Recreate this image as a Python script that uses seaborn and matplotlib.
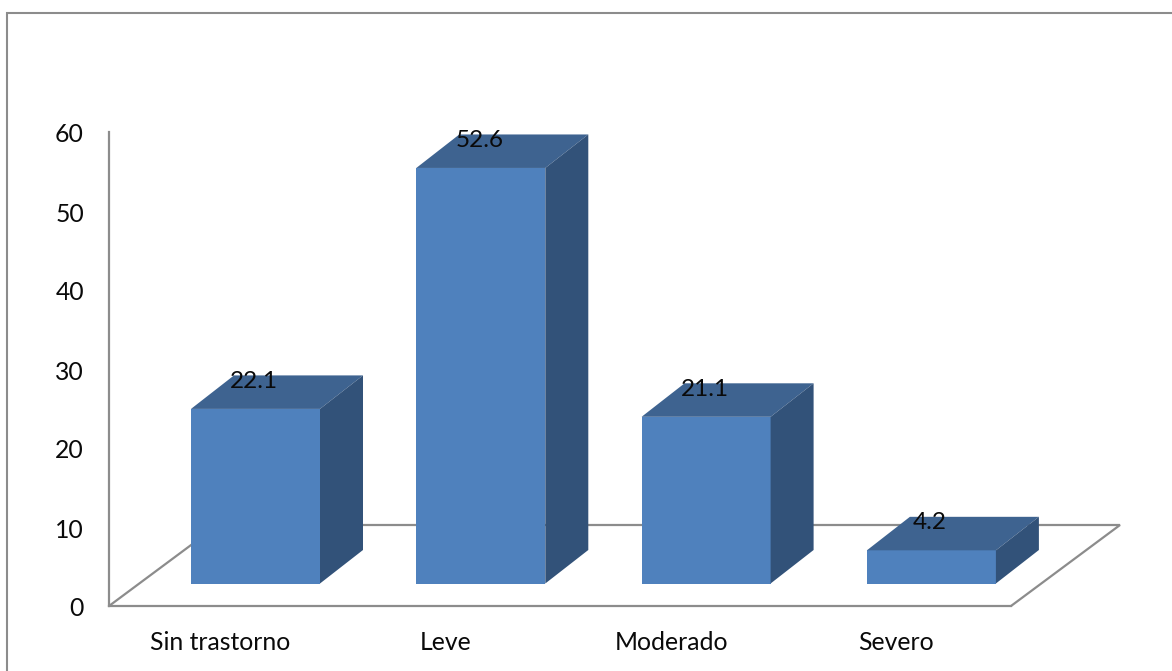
import matplotlib
matplotlib.use("Agg")
import matplotlib.pyplot as plt
from matplotlib.patches import Polygon, Rectangle
from matplotlib.transforms import ScaledTranslation
import pandas as pd
import seaborn as sns

categories = ["Sin trastorno", "Leve", "Moderado", "Severo"]
values = [22.1, 52.6, 21.1, 4.2]
y_ticks = [0, 10, 20, 30, 40, 50, 60]

W, H, DPI = 1172, 671, 100
FRONT, TOP, SIDE = "#4F81BD", "#3E6390", "#325279"
GRAY = "#8C8C8C"
TEXT = "#0A0A0A"

sns.set_theme(style="white")
plt.rcParams["font.family"] = ["Lato", "DejaVu Sans"]

fig = plt.figure(figsize=(W / DPI, H / DPI), dpi=DPI, facecolor="white")
ax = fig.add_axes([109 / W, 1 - 606 / H, 902 / W, 474 / H])
ax.set_facecolor("none")

# Axis scale: one category step and one y unit, in pixels
step_px = 225.3
unit_px = 474 / 60
x_limits = (-146.5 / step_px, 755.5 / step_px)

# Oblique projection used for the depth of the bars and of the floor
bar_width = 129 / step_px
bar_base = 22.5 / unit_px
bar_dx, bar_dy = 43 / step_px, 33.5 / unit_px
floor_dx, floor_dy = 109 / step_px, 81 / unit_px

# Outer chart frame; bottom and right edges fall outside the canvas
fig.add_artist(Rectangle((6.5 / W, -0.1), 1.2, 1.1 - 13 / H, transform=fig.transFigure,
                         fill=False, edgecolor=GRAY, linewidth=1.5))

df = pd.DataFrame({"categoria": categories, "valor": values})
sns.barplot(data=df, x="categoria", y="valor", ax=ax, color=FRONT, saturation=1,
            width=bar_width, bottom=bar_base, linewidth=0, zorder=3)
ax.set_xlim(*x_limits)
ax.set_ylim(0, 60)

# Floor parallelogram behind the bars
x0, x1 = x_limits
ax.plot([x0, x0 + floor_dx, x1 + floor_dx, x1], [0, floor_dy, floor_dy, 0],
        color=GRAY, linewidth=1.6, clip_on=False, zorder=1, solid_joinstyle="miter")

for patch, value in zip(list(ax.patches), values):
    left, right = patch.get_x(), patch.get_x() + patch.get_width()
    low, high = bar_base, bar_base + value
    ax.add_patch(Polygon([(left, high), (right, high), (right + bar_dx, high + bar_dy),
                          (left + bar_dx, high + bar_dy)],
                         facecolor=TOP, edgecolor="none", clip_on=False, zorder=3))
    ax.add_patch(Polygon([(right, low), (right + bar_dx, low + bar_dy),
                          (right + bar_dx, high + bar_dy), (right, high)],
                         facecolor=SIDE, edgecolor="none", clip_on=False, zorder=3))
    ax.annotate(f"{value:.1f}", xy=((left + right) / 2, high), xytext=(-1, 20),
                textcoords="offset points", ha="center", va="center",
                fontsize=17.5, color=TEXT, zorder=5, annotation_clip=False)

ax.set_xlabel("")
ax.set_ylabel("")
ax.set_yticks(y_ticks)
ax.set_xticks(range(len(categories)))
ax.set_xticklabels(categories)
ax.tick_params(axis="y", length=0, pad=18, labelsize=17.8, labelcolor=TEXT)
ax.tick_params(axis="x", length=0, pad=18, labelsize=17.8, labelcolor=TEXT)

# Category labels sit under the front edge of the floor, left of the bars
shift = ScaledTranslation(-35 / DPI, 0, fig.dpi_scale_trans)
for label in ax.get_xticklabels():
    label.set_transform(label.get_transform() + shift)

# Value labels of the y axis sit slightly below their nominal height
y_shift = ScaledTranslation(0, -1 / DPI, fig.dpi_scale_trans)
for label in ax.get_yticklabels():
    label.set_transform(label.get_transform() + y_shift)

sns.despine(ax=ax)
for side in ("left", "bottom"):
    ax.spines[side].set_color(GRAY)
    ax.spines[side].set_linewidth(1.6)

fig.savefig("out.png", dpi=DPI)
